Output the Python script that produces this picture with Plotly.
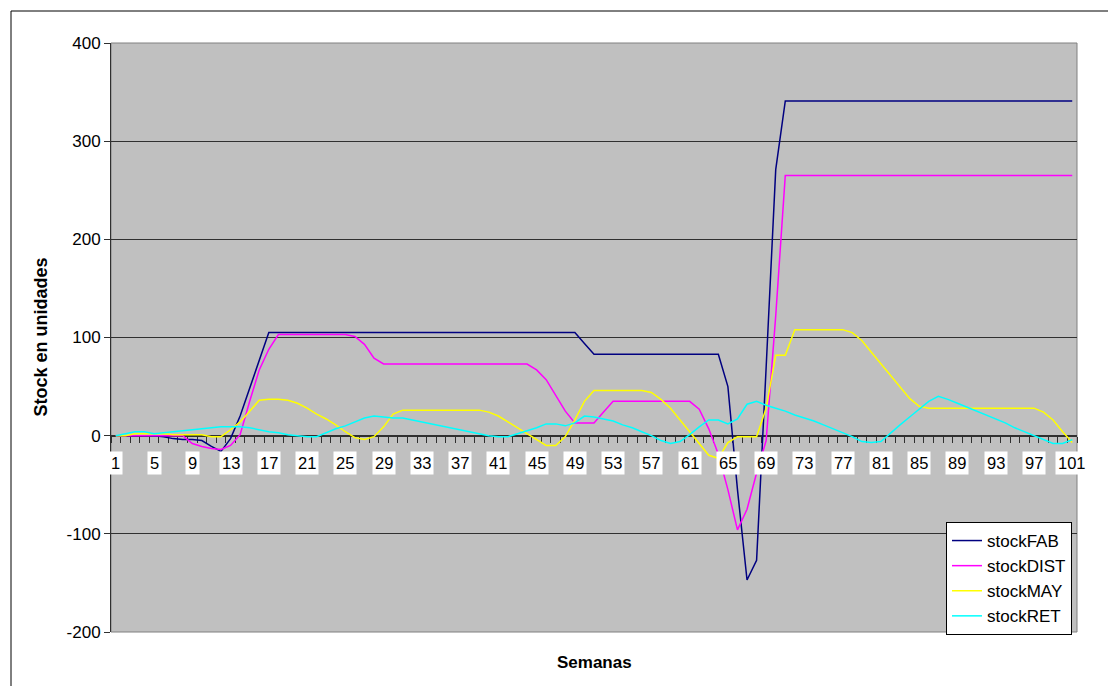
import plotly.graph_objects as go

weeks = list(range(1, 102))

stock_fab = [0, 0, 0, 0, 0, -1, -3, -4, -4, -5, -11, -16, -3, 20, 48, 77,
             105, 105, 105, 105, 105, 105, 105, 105, 105, 105, 105, 105, 105, 105, 105, 105,
             105, 105, 105, 105, 105, 105, 105, 105, 105, 105, 105, 105, 105, 105, 105, 105, 105,
             94,
             83, 83, 83, 83, 83, 83, 83, 83, 83, 83, 83, 83, 83, 83,
             50, -55, -147, -127, 70, 271,
             341, 341, 341, 341, 341, 341, 341, 341, 341, 341, 341, 341, 341, 341, 341, 341,
             341, 341, 341, 341, 341, 341, 341, 341, 341, 341, 341, 341, 341, 341, 341]

stock_dist = [0, 0, 0, 0, 0, 0, 0, 0,
              -8, -11, -13, -14, -10, 1, 35, 67, 88,
              103, 103, 103, 103, 103, 103, 103, 103,
              101, 93, 79,
              73, 73, 73, 73, 73, 73, 73, 73, 73, 73, 73, 73, 73, 73, 73, 73,
              67, 57, 41, 25, 13, 13, 13, 24, 35,
              35, 35, 35, 35, 35, 35, 35, 35,
              27, 7, -19, -55, -96, -75, -38, -5, 122,
              265, 265, 265, 265, 265, 265, 265, 265, 265, 265, 265, 265, 265, 265, 265, 265,
              265, 265, 265, 265, 265, 265, 265, 265, 265, 265, 265, 265, 265, 265, 265]

stock_may = [0, 0, 2, 2, 2, 2, 1, 1, 1, 1, -1, -1, 6, 14, 25, 36,
             37, 37,
             36, 33, 28, 22, 17, 11, 4, -2, -4, -1, 9, 22, 26,
             26, 26, 26, 26, 26, 26, 26, 26,
             24, 20, 14, 8, 2, -4, -10, -10, -1, 16, 35, 46,
             46, 46, 46, 46, 46,
             44, 37, 28, 16, 3, -9, -20, -23, -7, -1, -1, -1, 28, 82, 82,
             108, 108, 108, 108, 108, 108,
             105, 97, 85, 73, 61, 50, 38, 30, 28,
             28, 28, 28, 28, 28, 28, 28, 28, 28, 28, 28,
             24, 16, 4, -7]

stock_ret = [0, 2, 4, 4, 2, 3, 4, 5, 6, 7, 8, 9, 9, 9, 8, 6, 4, 3, 1, 0,
             -1, -1, 3, 7, 10, 14, 18, 20, 19, 18, 18, 16, 14, 12, 10, 8, 6, 4,
             2, 0, -1, -1, 2, 5, 8, 12, 12, 10, 13, 20, 19, 17, 15, 11, 8, 4, 0,
             -5, -8, -6, 1, 9, 16, 16, 12, 17, 32, 35,
             31, 28, 25, 21, 18, 15, 11, 7, 3, -1, -6, -7, -6,
             3, 11, 19, 27, 35, 40, 37, 33, 29, 25, 21, 17, 13, 8, 4, 0, -4, -8, -8, -4]

series_names = ["stockFAB", "stockDIST", "stockMAY", "stockRET"]
series_colors = ["#000080", "#FF00FF", "#FFFF00", "#00FFFF"]
tick_labels = [str(w) for w in range(1, 102, 4)]
y_ticks = [-200, -100, 0, 100, 200, 300, 400]
y_tick_labels = ["-200", "-100", "0", "100", "200", "300", "400"]

FONT = "Liberation Sans, Arial, sans-serif"

fig = go.Figure()
for name, vals, col in zip(series_names,
                           [stock_fab, stock_dist, stock_may, stock_ret],
                           series_colors):
    fig.add_trace(go.Scatter(x=weeks, y=vals, mode="lines", name=name,
                             legendgroup=name,
                             line=dict(color=col, width=1.5)))

W, H = 1108, 686
ml, mr, mt, mb = 111, 31, 43, 54
pw, ph = W - ml - mr, H - mt - mb

def px_x(p):
    return (p - ml) / pw

def px_y(p):
    return 1 - (p - mt) / ph

annotations = []
for lab in tick_labels:
    annotations.append(dict(x=int(lab), y=0, xref="x", yref="y", text=lab,
                            showarrow=False, bgcolor="white", borderpad=2,
                            font=dict(family=FONT, size=16.5, color="black"),
                            yanchor="middle", yshift=-27))
annotations.append(dict(x=px_x(40), y=0.5, xref="paper", yref="paper",
                        text="<b>Stock en unidades</b>", textangle=-90, showarrow=False,
                        font=dict(family=FONT, size=18, color="black"),
                        xanchor="center", yanchor="middle"))
annotations.append(dict(x=0.5, y=px_y(662), xref="paper", yref="paper",
                        text="<b>Semanas</b>", showarrow=False,
                        font=dict(family=FONT, size=17, color="black"),
                        xanchor="center", yanchor="middle"))

shapes = [
    dict(type="rect", xref="paper", yref="paper", x0=0, x1=1, y0=0, y1=1,
         line=dict(color="#808080", width=1), layer="below"),
    dict(type="rect", xref="paper", yref="paper", x0=px_x(11), x1=px_x(1130),
         y0=px_y(700), y1=px_y(11), line=dict(color="black", width=1),
         fillcolor="rgba(0,0,0,0)", layer="below"),
]

fig.update_layout(
    width=W, height=H,
    margin=dict(l=ml, r=mr, t=mt, b=mb),
    paper_bgcolor="white",
    plot_bgcolor="#C0C0C0",
    font=dict(family=FONT, size=16, color="black"),
    showlegend=True,
    legend=dict(x=px_x(946), y=px_y(522), xanchor="left", yanchor="top",
                bgcolor="white", bordercolor="black", borderwidth=1,
                font=dict(family=FONT, size=17, color="black"),
                tracegroupgap=0, itemwidth=30),
    annotations=annotations,
    shapes=shapes,
    xaxis=dict(range=[0.5, 101.5], anchor="free", position=1/3,
               showline=True, linecolor="#303030", linewidth=1,
               ticks="outside", ticklen=6, tickcolor="#303030",
               tickvals=[w + 0.5 for w in range(0, 102)],
               showticklabels=False, showgrid=False, zeroline=False,
               layer="below traces"),
    yaxis=dict(range=[-200, 400], tickvals=y_ticks, ticktext=y_tick_labels,
               showline=True, linecolor="#303030", linewidth=1,
               ticks="outside", ticklen=6, tickcolor="#303030",
               showgrid=True, gridcolor="#303030", gridwidth=1,
               zeroline=False, tickfont=dict(family=FONT, size=17),
               layer="below traces"),
)

fig.write_html("out.html")
